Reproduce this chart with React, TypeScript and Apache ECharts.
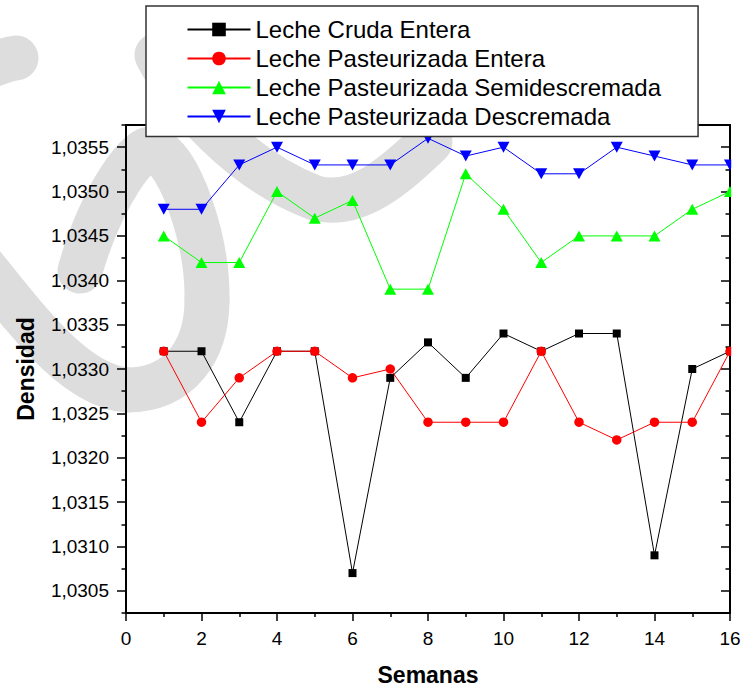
import React, { useEffect, useRef } from 'react';
import * as echarts from 'echarts';

const weeks = [1, 2, 3, 4, 5, 6, 7, 8, 9, 10, 11, 12, 13, 14, 15, 16];
const lecheCrudaEntera = [1.0332, 1.0332, 1.0324, 1.0332, 1.0332, 1.0307, 1.0329, 1.0333, 1.0329, 1.0334, 1.0332, 1.0334, 1.0334, 1.0309, 1.033, 1.0332];
const pasteurizadaEntera = [1.0332, 1.0324, 1.0329, 1.0332, 1.0332, 1.0329, 1.033, 1.0324, 1.0324, 1.0324, 1.0332, 1.0324, 1.0322, 1.0324, 1.0324, 1.0332];
const pasteurizadaSemidescremada = [1.0345, 1.0342, 1.0342, 1.035, 1.0347, 1.0349, 1.0339, 1.0339, 1.0352, 1.0348, 1.0342, 1.0345, 1.0345, 1.0345, 1.0348, 1.035];
const pasteurizadaDescremada = [1.0348, 1.0348, 1.0353, 1.0355, 1.0353, 1.0353, 1.0353, 1.0356, 1.0354, 1.0355, 1.0352, 1.0352, 1.0355, 1.0354, 1.0353, 1.0353];

const seriesNames = [
  'Leche Cruda Entera',
  'Leche Pasteurizada Entera',
  'Leche Pasteurizada Semidescremada',
  'Leche Pasteurizada Descremada',
];
const yMajorTicks = [1.0305, 1.031, 1.0315, 1.032, 1.0325, 1.033, 1.0335, 1.034, 1.0345, 1.035, 1.0355];
const yMinorTicks = [1.03025, 1.03075, 1.03125, 1.03175, 1.03225, 1.03275, 1.03325, 1.03375, 1.03425, 1.03475, 1.03525, 1.03575];
const yMin = 1.03025;
const yMax = 1.03575;
const xMin = 0;
const xMax = 16;
const xInterval = 2;

const FONT = '"Liberation Sans", Arial, sans-serif';

export default function App() {
  const ref = useRef<HTMLDivElement>(null);
  useEffect(() => {
    const chart = echarts.init(ref.current!, null, { renderer: 'svg' });
    const pairs = (vals: number[]) => weeks.map((w, i) => [w, vals[i]]);
    const gray = '#dddddd';
    const wm = (x1: number, y1: number, cpx1: number, cpy1: number, cpx2: number, cpy2: number, x2: number, y2: number) => ({
      type: 'bezierCurve',
      z: -10,
      silent: true,
      shape: { x1, y1, cpx1, cpy1, cpx2, cpy2, x2, y2 },
      style: { stroke: gray, lineWidth: 45, fill: null, lineCap: 'round' },
    });
    const yTickFmt = (v: number) => v.toFixed(4).replace('.', ',');
    const baseY = {
      type: 'value',
      min: yMin,
      max: yMax,
      splitLine: { show: false },
      axisLine: { show: true, lineStyle: { color: '#000', width: 2 } },
    };
    const option: any = {
      animation: false,
      backgroundColor: '#ffffff',
      textStyle: { fontFamily: FONT },
      graphic: [
        // watermark (decorative background)
        wm(-30, 250, 20, 310, 70, 385, 127, 390),
        wm(127, 390, 180, 390, 207, 350, 207, 300),
        wm(207, 300, 208, 240, 180, 160, 155, 150),
        wm(155, 150, 140, 140, 100, 200, 80, 271),
        wm(157, 55, 180, 100, 240, 170, 315, 198),
        wm(315, 198, 360, 210, 400, 170, 430, 142),
        wm(-45, 80, -25, 72, 0, 60, 16, 58),
        {
          type: 'rect',
          z: 50,
          silent: true,
          shape: { x: 731.2, y: 110, width: 20, height: 505 },
          style: { fill: '#ffffff' },
        },
      ],
      grid: { left: 126, right: 13, top: 125, bottom: 77, containLabel: false, outerBoundsMode: 'none' },
      legend: {
        orient: 'vertical',
        left: 146,
        top: 6,
        padding: [9, 37, 5.5, 40.5],
        itemGap: 0,
        itemWidth: 63,
        itemHeight: 17,
        backgroundColor: '#ffffff',
        borderColor: '#333333',
        borderWidth: 1.5,
        borderRadius: 0,
        data: seriesNames,
        textStyle: { fontFamily: FONT, fontSize: 24, color: '#000', lineHeight: 29 },
        z: 20,
      },
      xAxis: [
        {
          type: 'value',
          min: xMin,
          max: xMax,
          interval: xInterval,
          position: 'bottom',
          name: 'Semanas',
          nameLocation: 'middle',
          nameGap: 50,
          nameTextStyle: { fontFamily: FONT, fontSize: 23, fontWeight: 'bold', color: '#000' },
          splitLine: { show: false },
          axisLine: { show: true, onZero: false, lineStyle: { color: '#000', width: 2 } },
          axisTick: { show: true, length: 8, lineStyle: { color: '#000', width: 1.5 } },
          minorTick: { show: true, splitNumber: 2, length: 4, lineStyle: { color: '#000', width: 1.5 } },
          minorSplitLine: { show: false },
          axisLabel: { fontFamily: FONT, fontSize: 19, color: '#000', margin: 16 },
        },
        {
          type: 'value',
          min: xMin,
          max: xMax,
          interval: xInterval,
          position: 'top',
          splitLine: { show: false },
          axisLine: { show: true, onZero: false, lineStyle: { color: '#000', width: 2 } },
          axisTick: { show: false },
          axisLabel: { show: false },
        },
      ],
      yAxis: [
        {
          ...baseY,
          position: 'left',
          name: 'Densidad',
          nameLocation: 'middle',
          nameGap: 89,
          nameTextStyle: { fontFamily: FONT, fontSize: 23, fontWeight: 'bold', color: '#000' },
          axisTick: { show: true, length: 9, customValues: yMajorTicks, lineStyle: { color: '#000', width: 1.5 } },
          axisLabel: { show: true, customValues: yMajorTicks, formatter: yTickFmt, fontFamily: FONT, fontSize: 19, color: '#000', margin: 17 },
        },
        {
          ...baseY,
          position: 'left',
          axisLine: { show: false },
          axisTick: { show: true, length: 4.5, customValues: yMinorTicks, lineStyle: { color: '#000', width: 1.5 } },
          axisLabel: { show: false },
        },
        {
          ...baseY,
          position: 'right',
          axisTick: { show: true, inside: true, length: 9, customValues: yMajorTicks, lineStyle: { color: '#000', width: 1.5 } },
          axisLabel: { show: false },
        },
        {
          ...baseY,
          position: 'right',
          axisLine: { show: false },
          axisTick: { show: true, inside: true, length: 4.5, customValues: yMinorTicks, lineStyle: { color: '#000', width: 1.5 } },
          axisLabel: { show: false },
        },
      ],
      series: [
        {
          name: seriesNames[0],
          type: 'line',
          data: pairs(lecheCrudaEntera),
          symbol: 'rect',
          symbolSize: 8,
          itemStyle: { color: '#000000' },
          lineStyle: { color: '#000000', width: 1 },
          z: 2,
        },
        {
          name: seriesNames[1],
          type: 'line',
          data: pairs(pasteurizadaEntera),
          symbol: 'circle',
          symbolSize: 9.5,
          itemStyle: { color: '#ff0000' },
          lineStyle: { color: '#ff0000', width: 1 },
          z: 3,
        },
        {
          name: seriesNames[2],
          type: 'line',
          data: pairs(pasteurizadaSemidescremada),
          symbol: 'triangle',
          symbolSize: [12, 11],
          itemStyle: { color: '#00ff00' },
          lineStyle: { color: '#00ff00', width: 1 },
          z: 4,
        },
        {
          name: seriesNames[3],
          type: 'line',
          data: pairs(pasteurizadaDescremada),
          symbol: 'triangle',
          symbolRotate: 180,
          symbolSize: [12, 11],
          itemStyle: { color: '#0000ff' },
          lineStyle: { color: '#0000ff', width: 1 },
          z: 5,
        },
      ],
    };
    chart.setOption(option);
    return () => chart.dispose();
  }, []);
  return <div ref={ref} style={{ position: 'absolute', left: 0, top: 0, width: 743, height: 690 }} />;
}
